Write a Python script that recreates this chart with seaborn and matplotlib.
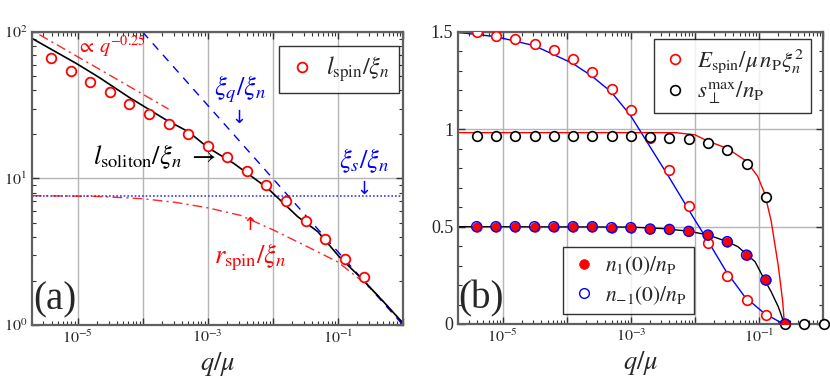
import matplotlib
matplotlib.use("Agg")
import matplotlib.pyplot as plt
import seaborn as sns
from matplotlib.lines import Line2D
from matplotlib.ticker import FixedLocator, LogLocator, MultipleLocator, NullFormatter

# q/mu sample points of the simulations
q_pts = [3.91e-6, 7.81e-6, 1.56e-5, 3.13e-5, 6.25e-5, 1.25e-4, 2.5e-4, 5e-4, 1e-3,
         2e-3, 4e-3, 8e-3, 1.6e-2, 3.2e-2, 6.4e-2, 0.128, 0.256]
q_ext = q_pts + [0.512, 1.024]

# ---- panel (a) ----
l_spin = [66.5, 54.5, 45.8, 38.7, 32.3, 27.5, 23.7, 20.1, 16.7, 14.0, 11.3, 9.0,
          7.0, 5.15, 3.85, 2.82, 2.12]
q_sol = [1.95e-6, 9.7e-6, 2.1e-5, 6.1e-5, 2.2e-4, 5.1e-4, 1e-3, 2.5e-3, 8.3e-3,
         2.4e-2, 4.9e-2, 0.105, 0.257, 0.525, 1.0]
l_soliton = [91, 60.8, 49.3, 36.0, 25.4, 20.8, 16.3, 12.7, 8.6, 5.5, 4.34, 2.92,
             1.98, 1.41, 1.03]
q_pow = [2.6e-6, 2.5e-4]
pow_line = [95.9, 29.8]
q_xiq = [1e-4, 1.0]
xi_q = [100, 1.0]
q_xis = [2e-6, 1.0]
xi_s = [7.6, 7.6]
q_rspin = [2e-6, 2e-5, 1e-4, 3.2e-4, 1e-3, 3.2e-3, 1e-2, 3.2e-2, 0.1, 0.25, 0.42, 0.63, 1.0]
r_spin = [7.64, 7.55, 7.28, 6.87, 6.31, 5.6, 4.47, 3.47, 2.69, 1.95, 1.58, 1.29, 1.03]

# ---- panel (b) ----
E_spin = [1.498, 1.481, 1.464, 1.438, 1.407, 1.36, 1.294, 1.209, 1.099, 0.955, 0.791,
          0.605, 0.414, 0.246, 0.123, 0.044, 0.0]
s_perp = [0.968] * 9 + [0.962, 0.958, 0.948, 0.931, 0.894, 0.82, 0.651, 0.0, 0.0, 0.0]
n_plus = [0.5] * 7 + [0.495, 0.495, 0.488, 0.486, 0.476, 0.457, 0.423, 0.354, 0.226, 0.0]
n_minus = [0.5] * 7 + [0.495, 0.495, 0.488, 0.486, 0.476, 0.457, 0.423, 0.354, 0.226, 0.0]

q_Eth = [2e-6, 7.8e-6, 3.1e-5, 1.23e-4, 2.45e-4, 4.9e-4, 9.8e-4, 1.32e-3, 2.14e-3, 3.9e-3,
         1e-2, 1.51e-2, 3.1e-2, 6.0e-2, 0.12, 0.24]
E_th = [1.498, 1.476, 1.43, 1.339, 1.274, 1.193, 1.073, 1.005, 0.894, 0.757, 0.534, 0.44,
        0.268, 0.14, 0.056, 0.0]
q_sth = [2e-6, 5e-3, 1e-2, 1.58e-2, 3.16e-2, 6.3e-2, 9.5e-2, 0.123, 0.155, 0.2, 0.234, 0.25]
s_th = [0.983, 0.983, 0.972, 0.94, 0.903, 0.838, 0.76, 0.67, 0.53, 0.30, 0.12, 0.0]
q_nth = [2e-6, 1e-3, 3.2e-3, 7.9e-3, 1.58e-2, 3.16e-2, 4.7e-2, 8.7e-2, 0.12, 0.155, 0.2, 0.25]
n_th = [0.5, 0.498, 0.49, 0.477, 0.458, 0.424, 0.397, 0.32, 0.232, 0.166, 0.089, 0.0]

RED = "#ff0000"
BLUE = "#0000ff"

sns.set_style("ticks")
plt.rcParams["font.family"] = ["Liberation Serif", "DejaVu Serif"]
plt.rcParams["mathtext.fontset"] = "stix"

fig = plt.figure(figsize=(8.3, 3.85), dpi=100)
ax_a = fig.add_axes([32 / 830, 1 - 325 / 385, 371 / 830, 293 / 385])
ax_b = fig.add_axes([458 / 830, 1 - 324 / 385, 365 / 830, 292 / 385])


def style_axes(ax):
    ax.set_xscale("log")
    ax.set_xlim(2e-6, 1.0)
    ax.xaxis.set_major_locator(FixedLocator([1e-5, 1e-4, 1e-3, 1e-2, 1e-1, 1e0]))
    ax.set_xticklabels([r"$10^{-5}$", "", r"$10^{-3}$", "", r"$10^{-1}$", ""])
    ax.xaxis.set_minor_locator(LogLocator(base=10, subs=range(2, 10), numticks=20))
    ax.xaxis.set_minor_formatter(NullFormatter())
    ax.tick_params(which="both", direction="in", top=True, right=True,
                   color="#333333", labelsize=11.5)
    ax.tick_params(which="major", length=5, width=1)
    ax.tick_params(which="minor", length=3, width=0.8)
    ax.grid(True, which="major", color="#b5b5b5", lw=1)
    ax.set_axisbelow(True)
    for sp in ax.spines.values():
        sp.set_color("#606060")
        sp.set_linewidth(1.6)
    ax.set_xlabel(r"$q/\mu$", fontsize=19, labelpad=2)


# ---------------- (a) ----------------
ax = ax_a
ax.set_yscale("log")
style_axes(ax)
ax.set_ylim(1, 100)
ax.set_yticks([1, 10, 100])
ax.set_yticklabels([r"$10^{0}$", r"$10^{1}$", r"$10^{2}$"])
ax.yaxis.set_minor_locator(LogLocator(base=10, subs=range(2, 10), numticks=10))
ax.yaxis.set_minor_formatter(NullFormatter())

sns.lineplot(x=q_xis, y=xi_s, ax=ax, color="#3a3aff", lw=1.2, linestyle=(0, (1, 1.2)),
             estimator=None, sort=False)
sns.lineplot(x=q_rspin, y=r_spin, ax=ax, color=RED, lw=1, alpha=0.85,
             linestyle=(0, (7, 3, 1.5, 3)), estimator=None, sort=False)
sns.lineplot(x=q_pow, y=pow_line, ax=ax, color=RED, lw=1, alpha=0.85,
             linestyle=(0, (7, 3, 1.5, 3)), estimator=None, sort=False)
sns.lineplot(x=q_xiq, y=xi_q, ax=ax, color=BLUE, lw=1, linestyle=(0, (6, 5)),
             estimator=None, sort=False)
sns.lineplot(x=q_sol, y=l_soliton, ax=ax, color="black", lw=1.2,
             estimator=None, sort=False)
sns.scatterplot(x=q_pts, y=l_spin, ax=ax, marker="o", s=48, color="white",
                edgecolor=RED, linewidth=1.3, zorder=5)

leg = ax.legend(handles=[Line2D([], [], ls="none", marker="o", ms=7, mfc="white",
                                mec=RED, mew=1.3)],
                labels=[r"$l_{\mathrm{spin}}/\xi_n$"], loc="upper right",
                bbox_to_anchor=(0.989, 0.952), fontsize=17.5, frameon=True,
                fancybox=False, edgecolor="black", handletextpad=0.4,
                borderpad=0.35, handlelength=1.2, borderaxespad=0)
leg.get_frame().set_linewidth(1)

ax.text(0.121, 0.95, r"$\propto\, q^{-0.25}$", color=RED, fontsize=14.5,
        transform=ax.transAxes, ha="left", va="center")
ax.text(0.561, 0.805, r"$\xi_q/\xi_n$", color=BLUE, fontsize=19,
        transform=ax.transAxes, ha="center", va="center")
ax.text(0.558, 0.708, "↓", color=BLUE, fontsize=13, family="DejaVu Sans",
        transform=ax.transAxes, ha="center", va="center")
ax.text(0.164, 0.573, r"$l_{\mathrm{soliton}}/\xi_n\ \rightarrow$", color="black",
        fontsize=19, transform=ax.transAxes, ha="left", va="center")
ax.text(0.895, 0.562, r"$\xi_s/\xi_n$", color=BLUE, fontsize=19,
        transform=ax.transAxes, ha="center", va="center")
ax.text(0.895, 0.466, "↓", color=BLUE, fontsize=13, family="DejaVu Sans",
        transform=ax.transAxes, ha="center", va="center")
ax.text(0.588, 0.341, "↑", color=RED, fontsize=13, family="DejaVu Sans",
        transform=ax.transAxes, ha="center", va="center")
ax.text(0.589, 0.232, r"$r_{\mathrm{spin}}/\xi_n$", color=RED, fontsize=19,
        transform=ax.transAxes, ha="center", va="center")
ax.text(0.003, 0.085, "(a)", fontsize=28, transform=ax.transAxes,
        ha="left", va="center")

# ---------------- (b) ----------------
ax = ax_b
style_axes(ax)
ax.set_ylim(0, 1.5)
ax.set_yticks([0, 0.5, 1, 1.5])
ax.set_yticklabels(["0", "0.5", "1", "1.5"])
ax.yaxis.set_minor_locator(MultipleLocator(0.1))
ax.tick_params(axis="y", labelsize=13)

sns.lineplot(x=q_Eth, y=E_th, ax=ax, color=BLUE, lw=1, estimator=None, sort=False)
sns.lineplot(x=q_sth, y=s_th, ax=ax, color=RED, lw=1, estimator=None, sort=False)
sns.lineplot(x=q_nth, y=n_th, ax=ax, color="black", lw=1, estimator=None, sort=False)

sns.scatterplot(x=q_pts, y=E_spin, ax=ax, marker="o", s=48, color="white",
                edgecolor=RED, linewidth=1.2, zorder=5)
sns.scatterplot(x=q_ext, y=s_perp, ax=ax, marker="o", s=48, color="white",
                edgecolor="black", linewidth=1.2, zorder=6, clip_on=False)
sns.scatterplot(x=q_pts, y=n_plus, ax=ax, marker="o", s=48, color=RED,
                edgecolor=RED, linewidth=0.5, zorder=7)
sns.scatterplot(x=q_pts, y=n_minus, ax=ax, marker="o", s=52, color="none",
                edgecolor=BLUE, linewidth=1.0, zorder=8)

h_E = Line2D([], [], ls="none", marker="o", ms=7, mfc="white", mec=RED, mew=1.2)
h_s = Line2D([], [], ls="none", marker="o", ms=7, mfc="white", mec="black", mew=1.2)
leg1 = ax.legend(handles=[h_E, h_s],
                 labels=[r"$E_{\mathrm{spin}}/\mu\, n_{\mathrm{P}}\xi_n^2$",
                         r"$s_{\perp}^{\mathrm{max}}/n_{\mathrm{P}}$"],
                 loc="upper right", bbox_to_anchor=(0.967, 0.976), fontsize=16.5,
                 frameon=True, fancybox=False, edgecolor="black", handletextpad=0.4,
                 borderpad=0.3, handlelength=1.2, labelspacing=0.2, borderaxespad=0)
leg1.get_frame().set_linewidth(1)
ax.add_artist(leg1)

h_n1 = Line2D([], [], ls="none", marker="o", ms=7, mfc=RED, mec=RED, mew=0.5)
h_n2 = Line2D([], [], ls="none", marker="o", ms=7, mfc="white", mec=BLUE, mew=1.0)
leg2 = ax.legend(handles=[h_n1, h_n2],
                 labels=[r"$n_1(0)/n_{\mathrm{P}}$", r"$n_{-1}(0)/n_{\mathrm{P}}$"],
                 loc="lower left", bbox_to_anchor=(0.288, 0.034), fontsize=15.5,
                 frameon=True, fancybox=False, edgecolor="black", handletextpad=0.4,
                 borderpad=0.35, handlelength=1.2, labelspacing=0.3, borderaxespad=0)
leg2.get_frame().set_linewidth(1)

ax.text(0.0, 0.085, "(b)", fontsize=28, transform=ax.transAxes,
        ha="left", va="center")

fig.savefig("out.png", dpi=100)
